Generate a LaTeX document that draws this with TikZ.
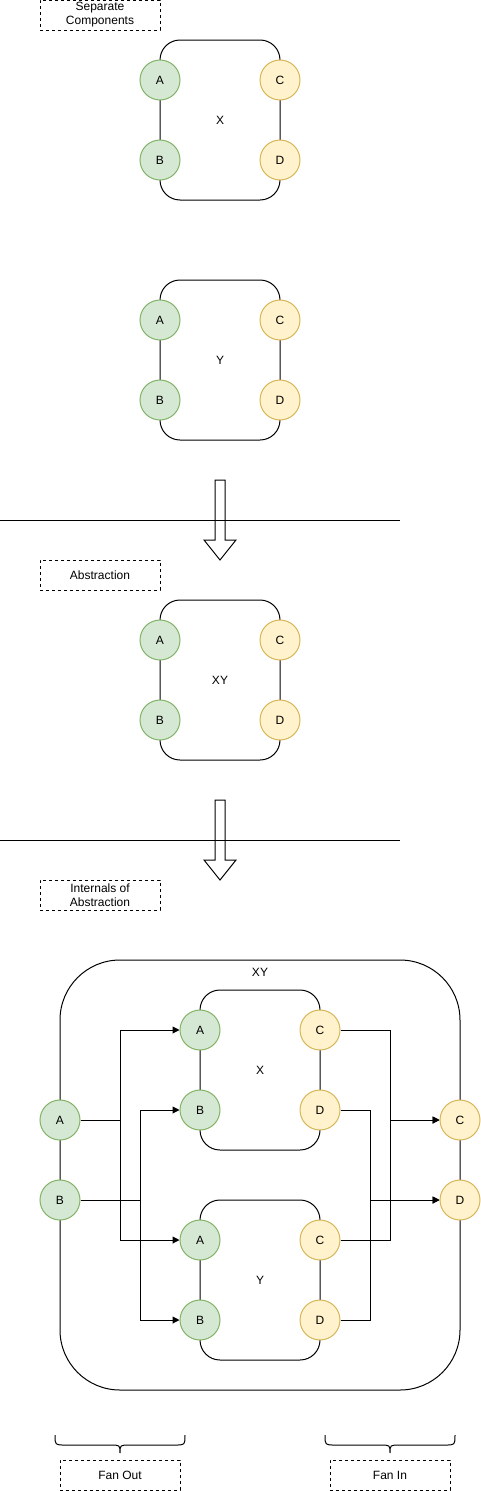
\documentclass[tikz,border=0pt]{standalone}
\usepackage{fontspec}
\setmainfont{Liberation Sans}
\usetikzlibrary{arrows.meta}
\definecolor{gfill}{HTML}{D5E8D4}
\definecolor{gline}{HTML}{82B366}
\definecolor{yfill}{HTML}{FFF2CC}
\definecolor{yline}{HTML}{D6B656}
\begin{document}
\begin{tikzpicture}[x=1pt,y=-1pt,
  every node/.style={font=\fontsize{12}{14}\selectfont, inner sep=0pt},
  gport/.style={circle, draw=gline, fill=gfill, minimum size=40pt, line width=1pt},
  yport/.style={circle, draw=yline, fill=yfill, minimum size=40pt, line width=1pt},
  comp/.style={draw, rounded corners=20pt, line width=1pt},
  outer/.style={draw, rounded corners=60pt, line width=1pt},
  tag/.style={draw, dashed, minimum width=120pt, minimum height=30pt, align=center, line width=0.9pt},
  wire/.style={line width=1pt},
  arr/.style={wire, -{Triangle[length=7pt,width=7pt]}},
  blockarrow/.style={line width=1pt},
  sep/.style={line width=1pt}
]
\useasboundingbox (0,0) rectangle (481,1491);

% ---------- Separate components ----------
\node[tag] (t1) at (100,15) {Separate\\Components};

\draw[comp] (160,40) rectangle (280,200);
\node (xlab) at (220,120) {X};
\node[gport] (xa) at (160,80) {A};
\node[gport] (xb) at (160,160) {B};
\node[yport] (xc) at (280,80) {C};
\node[yport] (xd) at (280,160) {D};

\draw[comp] (160,280) rectangle (280,440);
\node (ylab) at (220,360) {Y};
\node[gport] (ya) at (160,320) {A};
\node[gport] (yb) at (160,400) {B};
\node[yport] (yc) at (280,320) {C};
\node[yport] (yd) at (280,400) {D};

% arrow 1
\draw[blockarrow] (215,480) -- (225,480) -- (225,540) -- (236,540) -- (220,560) -- (204,540) -- (215,540) -- cycle;
\draw[sep] (0,520) -- (400,520);

% ---------- Abstraction ----------
\node[tag] (t2) at (100,575) {Abstraction};
\draw[comp] (160,600) rectangle (280,760);
\node (xylab) at (220,680) {XY};
\node[gport] (aa) at (160,640) {A};
\node[gport] (ab) at (160,720) {B};
\node[yport] (ac) at (280,640) {C};
\node[yport] (ad) at (280,720) {D};

% arrow 2
\draw[blockarrow] (215,800) -- (225,800) -- (225,860) -- (236,860) -- (220,880) -- (204,860) -- (215,860) -- cycle;
\draw[sep] (0,840) -- (400,840);

% ---------- Internals ----------
\node[tag] (t3) at (100,895) {Internals of\\Abstraction};

\draw[outer] (60,960) rectangle (460,1390);
\node (bxy) at (260,972) {XY};

\draw[comp] (200,990) rectangle (320,1150);
\node (ixlab) at (260,1070) {X};
\draw[comp] (200,1200) rectangle (320,1360);
\node (iylab) at (260,1280) {Y};

\node[gport] (oa) at (60,1120) {A};
\node[gport] (ob) at (60,1200) {B};
\node[yport] (oc) at (460,1120) {C};
\node[yport] (od) at (460,1200) {D};

\node[gport] (ixa) at (200,1030) {A};
\node[gport] (ixb) at (200,1110) {B};
\node[yport] (ixc) at (320,1030) {C};
\node[yport] (ixd) at (320,1110) {D};

\node[gport] (iya) at (200,1240) {A};
\node[gport] (iyb) at (200,1320) {B};
\node[yport] (iyc) at (320,1240) {C};
\node[yport] (iyd) at (320,1320) {D};

% fan out
\draw[arr] (oa.east) -- (120,1120) |- (ixa.west);
\draw[arr] (oa.east) -- (120,1120) |- (iya.west);
\draw[arr] (ob.east) -- (140,1200) |- (ixb.west);
\draw[arr] (ob.east) -- (140,1200) |- (iyb.west);

% fan in
\draw[arr] (ixc.east) -- (390,1030) |- (oc.west);
\draw[arr] (iyc.east) -- (390,1240) |- (oc.west);
\draw[arr] (ixd.east) -- (370,1110) |- (od.west);
\draw[arr] (iyd.east) -- (370,1320) |- (od.west);

% braces
\draw[wire] (55,1435) .. controls (55,1445) .. (65,1445) -- (110,1445) .. controls (120,1445) .. (120,1453) .. controls (120,1445) .. (130,1445) -- (175,1445) .. controls (185,1445) .. (185,1435);
\draw[wire] (325,1435) .. controls (325,1445) .. (335,1445) -- (380,1445) .. controls (390,1445) .. (390,1453) .. controls (390,1445) .. (400,1445) -- (445,1445) .. controls (455,1445) .. (455,1435);

\node[tag] (fo) at (120,1475) {Fan Out};
\node[tag] (fi) at (390,1475) {Fan In};
\end{tikzpicture}
\end{document}
